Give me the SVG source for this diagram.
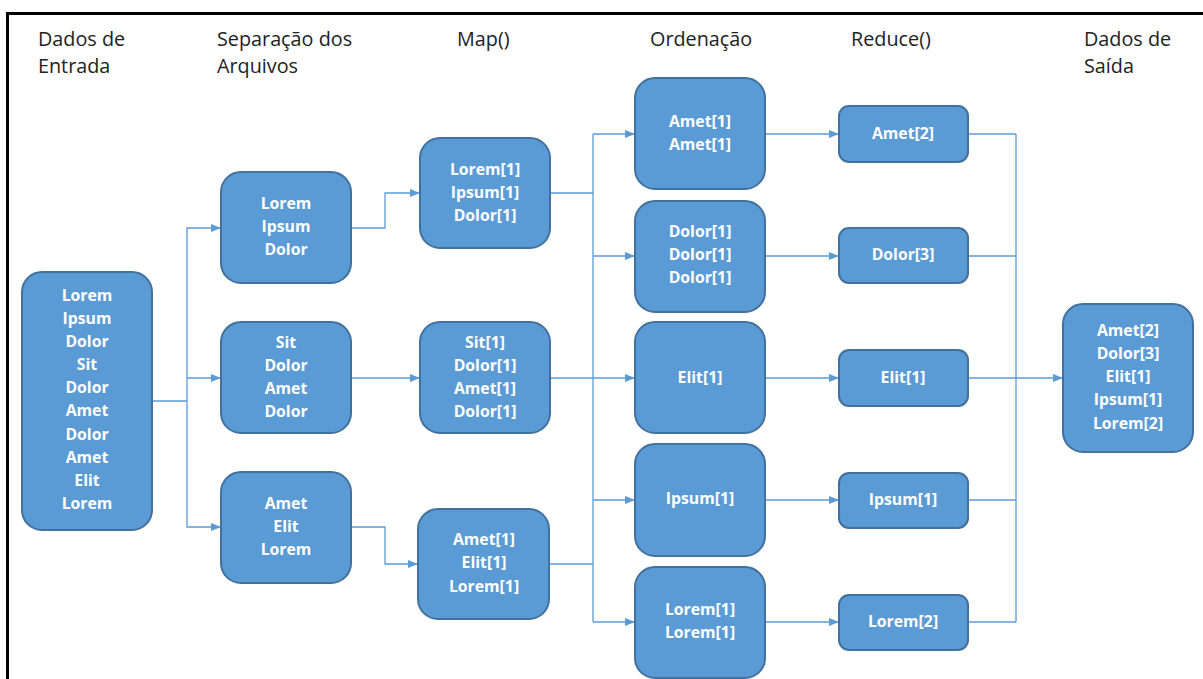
<svg xmlns="http://www.w3.org/2000/svg" width="1203" height="679" viewBox="0 0 1203 679">
<style>
.node rect{fill:#5B9BD5;stroke:#41719C;stroke-width:2}
.node text{fill:#fff;font-family:"Open Sans","Liberation Sans",sans-serif;font-weight:700;font-size:15.8px;text-anchor:middle}
.title{fill:#222;font-family:"Open Sans","Liberation Sans",sans-serif;font-size:19.8px}
.conn path{fill:none;stroke:#5B9BD5;stroke-width:1.3}
</style>
<defs>
<marker id="ah" markerWidth="10" markerHeight="8" refX="9" refY="4" orient="auto" markerUnits="userSpaceOnUse">
<path d="M0,0 L10,4 L0,8 Z" fill="#5B9BD5"/>
</marker>
</defs>
<rect x="0" y="0" width="1203" height="679" fill="#fff"/>
<path d="M7.5,679 V13.5 H1203" fill="none" stroke="#000" stroke-width="3"/>
<g id="titles">
<text class="title" x="38" y="46">Dados de</text>
<text class="title" x="38" y="73">Entrada</text>
<text class="title" x="217" y="46">Separação dos</text>
<text class="title" x="217" y="73">Arquivos</text>
<text class="title" x="457" y="46">Map()</text>
<text class="title" x="650" y="46">Ordenação</text>
<text class="title" x="851" y="46">Reduce()</text>
<text class="title" x="1084" y="46">Dados de</text>
<text class="title" x="1084" y="73">Saída</text>
</g>
<g class="conn" id="connectors">
<path d="M152,401 H187"/>
<path d="M187,401 V228 H220" marker-end="url(#ah)"/>
<path d="M187,378 H220" marker-end="url(#ah)"/>
<path d="M187,401 V527 H220" marker-end="url(#ah)"/>
<path d="M351,228 H385 V193 H419" marker-end="url(#ah)"/>
<path d="M351,378 H419" marker-end="url(#ah)"/>
<path d="M351,527 H385 V564 H417" marker-end="url(#ah)"/>
<path d="M550,193 H593"/>
<path d="M550,378 H593"/>
<path d="M550,564 H593"/>
<path d="M593,134 V622"/>
<path d="M593,134 H634" marker-end="url(#ah)"/>
<path d="M593,256 H634" marker-end="url(#ah)"/>
<path d="M593,378 H634" marker-end="url(#ah)"/>
<path d="M593,500 H634" marker-end="url(#ah)"/>
<path d="M593,622 H634" marker-end="url(#ah)"/>
<path d="M765,134 H838" marker-end="url(#ah)"/>
<path d="M765,256 H838" marker-end="url(#ah)"/>
<path d="M765,378 H838" marker-end="url(#ah)"/>
<path d="M765,500 H838" marker-end="url(#ah)"/>
<path d="M765,622 H838" marker-end="url(#ah)"/>
<path d="M968,134 H1016"/>
<path d="M968,256 H1016"/>
<path d="M968,500 H1016"/>
<path d="M968,622 H1016"/>
<path d="M1016,134 V622"/>
<path d="M968,378 H1062" marker-end="url(#ah)"/>
</g>
<g class="node" id="input">
<rect x="22" y="272" width="130" height="258" rx="20"/>
<text x="87" y="301">Lorem</text>
<text x="87" y="324">Ipsum</text>
<text x="87" y="347">Dolor</text>
<text x="87" y="370">Sit</text>
<text x="87" y="393">Dolor</text>
<text x="87" y="416">Amet</text>
<text x="87" y="440">Dolor</text>
<text x="87" y="463">Amet</text>
<text x="87" y="486">Elit</text>
<text x="87" y="509">Lorem</text>
</g>
<g class="node" id="sep1">
<rect x="221" y="172" width="130" height="111" rx="20"/>
<text x="286" y="209">Lorem</text>
<text x="286" y="232">Ipsum</text>
<text x="286" y="255">Dolor</text>
</g>
<g class="node" id="sep2">
<rect x="221" y="322" width="130" height="111" rx="20"/>
<text x="286" y="348">Sit</text>
<text x="286" y="371">Dolor</text>
<text x="286" y="394">Amet</text>
<text x="286" y="417">Dolor</text>
</g>
<g class="node" id="sep3">
<rect x="221" y="472" width="130" height="111" rx="20"/>
<text x="286" y="509">Amet</text>
<text x="286" y="532">Elit</text>
<text x="286" y="555">Lorem</text>
</g>
<g class="node" id="map1">
<rect x="420" y="138" width="130" height="110" rx="20"/>
<text x="485" y="175">Lorem[1]</text>
<text x="485" y="198">Ipsum[1]</text>
<text x="485" y="221">Dolor[1]</text>
</g>
<g class="node" id="map2">
<rect x="420" y="322" width="130" height="111" rx="20"/>
<text x="485" y="348">Sit[1]</text>
<text x="485" y="371">Dolor[1]</text>
<text x="485" y="394">Amet[1]</text>
<text x="485" y="417">Dolor[1]</text>
</g>
<g class="node" id="map3">
<rect x="418" y="509" width="131" height="110" rx="20"/>
<text x="484" y="545">Amet[1]</text>
<text x="484" y="568">Elit[1]</text>
<text x="484" y="592">Lorem[1]</text>
</g>
<g class="node" id="ord1">
<rect x="635" y="78" width="130" height="111" rx="20"/>
<text x="700" y="127">Amet[1]</text>
<text x="700" y="150">Amet[1]</text>
</g>
<g class="node" id="ord2">
<rect x="635" y="201" width="130" height="111" rx="20"/>
<text x="700" y="237">Dolor[1]</text>
<text x="700" y="260">Dolor[1]</text>
<text x="700" y="283">Dolor[1]</text>
</g>
<g class="node" id="ord3">
<rect x="635" y="322" width="130" height="111" rx="20"/>
<text x="700" y="383">Elit[1]</text>
</g>
<g class="node" id="ord4">
<rect x="635" y="444" width="130" height="112" rx="20"/>
<text x="700" y="504">Ipsum[1]</text>
</g>
<g class="node" id="ord5">
<rect x="635" y="567" width="130" height="111" rx="20"/>
<text x="700" y="615">Lorem[1]</text>
<text x="700" y="638">Lorem[1]</text>
</g>
<g class="node" id="red1">
<rect x="839" y="106" width="129" height="56" rx="10"/>
<text x="903" y="139">Amet[2]</text>
</g>
<g class="node" id="red2">
<rect x="839" y="228" width="129" height="55" rx="10"/>
<text x="903" y="260">Dolor[3]</text>
</g>
<g class="node" id="red3">
<rect x="839" y="350" width="129" height="56" rx="10"/>
<text x="903" y="383">Elit[1]</text>
</g>
<g class="node" id="red4">
<rect x="839" y="473" width="129" height="55" rx="10"/>
<text x="903" y="505">Ipsum[1]</text>
</g>
<g class="node" id="red5">
<rect x="839" y="595" width="129" height="55" rx="10"/>
<text x="903" y="627">Lorem[2]</text>
</g>
<g class="node" id="output">
<rect x="1063" y="304" width="130" height="148" rx="20"/>
<text x="1128" y="336">Amet[2]</text>
<text x="1128" y="359">Dolor[3]</text>
<text x="1128" y="382">Elit[1]</text>
<text x="1128" y="405">Ipsum[1]</text>
<text x="1128" y="429">Lorem[2]</text>
</g>
</svg>
